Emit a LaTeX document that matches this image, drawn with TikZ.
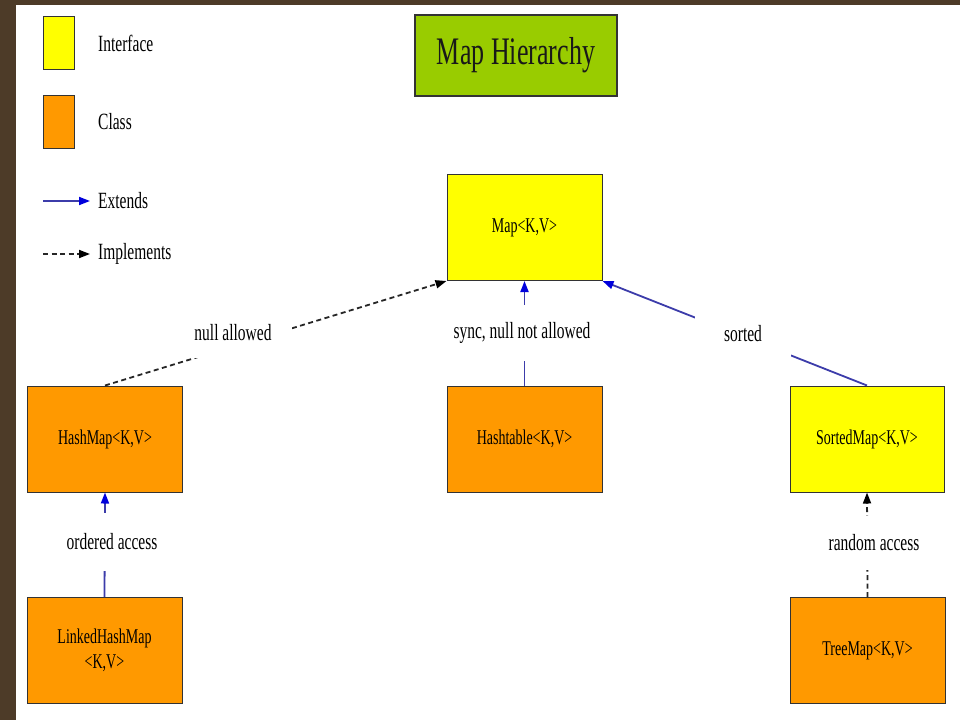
\documentclass[tikz,border=0pt]{standalone}
\usepackage{fontspec}
\setmainfont{Liberation Serif}
\usetikzlibrary{arrows.meta}
\newcommand{\stt}[1]{\scalebox{1}[1.5]{#1}}
\definecolor{framebrown}{RGB}{77,59,40}
\definecolor{ifyellow}{RGB}{255,255,0}
\definecolor{clorange}{RGB}{255,153,0}
\definecolor{titlegreen}{RGB}{153,204,0}
\definecolor{extblue}{RGB}{60,60,170}
\definecolor{tipblue}{RGB}{0,0,220}
\tikzset{
  box/.style={draw=black!80, line width=1pt, minimum width=155pt, minimum height=106pt,
    inner sep=0pt, font=\fontsize{14}{25}\selectfont, align=center},
  iface/.style={box, fill=ifyellow},
  cls/.style={box, fill=clorange},
  legbox/.style={draw=black!80, line width=1pt, minimum width=31pt, minimum height=53pt, inner sep=0pt},
  ext/.style={draw=extblue, line width=1.8pt, -{Triangle[length=11pt,width=8pt,color=tipblue]}},
  impl/.style={draw=black!85, line width=1.8pt, dash pattern=on 5pt off 3.5pt,
    -{Triangle[length=11pt,width=8pt,color=black]}},
  elabel/.style={fill=white, inner sep=0pt, font=\fontsize{15.5}{18}\selectfont},
  legtext/.style={anchor=west, inner sep=0pt, font=\fontsize{15.5}{18}\selectfont},
}
\begin{document}
\begin{tikzpicture}[x=1pt,y=-1pt]
\useasboundingbox (0,0) rectangle (960,720);
\fill[framebrown] (0,0) rectangle (960,720);
\fill[white] (16,5) rectangle (960,720);

% legend
\node[legbox, fill=ifyellow] (lgif) at (58.5,43) {};
\node[legtext] (lgift) at (98,43) {\stt{Interface}};
\node[legbox, fill=clorange] (lgcl) at (58.5,122) {};
\node[legtext] (lgclt) at (98,122) {\stt{Class}};
\coordinate (lge1) at (43,201);
\coordinate (lge2) at (90,201);
\draw[ext] (lge1) -- (lge2);
\node[legtext] (lget) at (98,201) {\stt{Extends}};
\coordinate (lgi1) at (43,254);
\coordinate (lgi2) at (90,254);
\draw[impl] (lgi1) -- (lgi2);
\node[legtext] (lgit) at (98,254) {\stt{Implements}};

% title
\node[draw=black!80, line width=1.2pt, fill=titlegreen, minimum width=202pt, minimum height=81pt,
  inner sep=0pt, font=\fontsize{26}{30}\selectfont, text=black!90] (title) at (516,55.5) {\raisebox{4pt}{\stt{Map Hierarchy}}};

% nodes
\node[iface] (map) at (524.5,227.5) {\stt{Map<K,V>}};
\node[cls] (hashmap) at (105,439) {\stt{HashMap<K,V>}};
\node[cls] (hashtable) at (524.5,439) {\stt{Hashtable<K,V>}};
\node[iface, minimum width=154pt] (sortedmap) at (867,439) {\stt{SortedMap<K,V>}};
\node[cls] (linked) at (104.5,650.5) {\stt{LinkedHashMap}\\\stt{<K,V>}};
\node[cls] (treemap) at (867.5,650.5) {\stt{TreeMap<K,V>}};

% connectors
\draw[impl] (hashmap.north) -- (map.south west);
\draw[ext] (hashtable.north) -- (map.south);
\draw[ext] (sortedmap.north) -- (map.south east);
\draw[ext] (linked.north) -- (hashmap.south);
\draw[impl] (treemap.north) -- (sortedmap.south);

% edge labels
\node[elabel, minimum width=118pt, minimum height=50pt] (lnull) at (233,333) {\stt{null allowed}};
\node[elabel, minimum height=56pt] (lsync) at (522,333) {\stt{sync, null not allowed}};
\node[elabel, minimum width=96pt, minimum height=46pt] (lsorted) at (743,334) {\stt{sorted}};
\node[elabel, minimum height=58pt] (lord) at (112,542) {\stt{ordered access}};
\node[elabel, minimum height=54pt] (lrand) at (874,543) {\stt{random access}};
\end{tikzpicture}
\end{document}
